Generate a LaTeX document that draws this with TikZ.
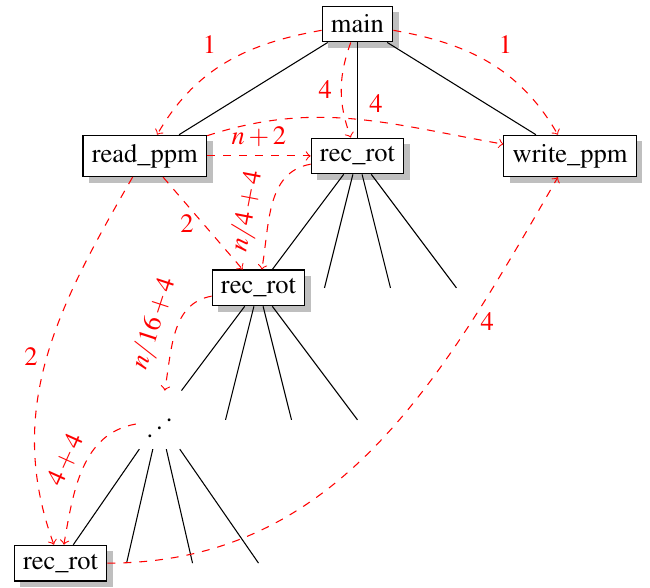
\documentclass[tikz,border=0pt]{standalone}
\usepackage[T1]{fontenc}
\usepackage{mathptmx}
\usetikzlibrary{shadows}
\newcommand{\updots}{\mathinner{\mkern1mu\raise1pt\hbox{.}\mkern2mu\raise4pt\hbox{.}\mkern2mu\raise7pt\vbox{\kern7pt\hbox{.}}\mkern1mu}}
\tikzset{level distance=1.75cm,
    level 1/.style={sibling distance=2.82cm},
    level 2/.style={sibling distance=.875cm},
    level 3/.style={sibling distance=.875cm},
    level 4/.style={sibling distance=.875cm, level distance=1.9cm},
    fn/.style={draw, fill=white, drop shadow},
    call/.style={->, dashed, red},
    }
\begin{document}
\begin{tikzpicture}
	\useasboundingbox (-4.741,-7.467) rectangle (3.879,0.318);
	\node[fn] (main) {main}
	child {node[fn] (rp) {read\_ppm}}
	child {node[fn] (r1) {rec\_rot}
		child {node[fn] (r2) {rec\_rot}
			child {node (dd) {$\updots$}
				child {node[fn] (r3) {rec\_rot}}
				child {} child {} child {}
			}%dd
			child {} child {} child {}
		}%r2
		child {} child {} child {}
	}%r1
	child {node[fn] (wp) {write\_ppm}};
	% calls
	\draw[call] (main) to[out=190,in=60] node[above left] {$1$} (rp);
	\draw[call] (main) to[out=-10,in=120] node[above right] {$1$} (wp);
	\draw[call] (main) to[out=-110,in=110] node[left] {$4$} (r1);
	\draw[call] (rp) to[out=18,in=170] node[pos=.58,above] {$4$} (wp);
	\draw[call] (rp) -- node[above] {$n+2$} (r1);
	\draw[call] (rp) -- node[left] {$2$} (r2);
	\draw[call] (r1) to[out=190,in=80] node[pos=.6,sloped,above] {$n/4+4$} (r2);
	\draw[call] (r2) to[out=190,in=80] node[sloped,above] {$n/16+4$} (dd);
	\draw[call] (rp) to[out=-120,in=110] node[left] {$2$} (r3);
	\draw[call] (dd) to[out=190,in=80] node[sloped,above] {$4+4$} (r3);
	\draw[call] (r3) to[out=0,in=-120] node[pos=.75,right] {$4$} (wp);
\end{tikzpicture}
\end{document}
